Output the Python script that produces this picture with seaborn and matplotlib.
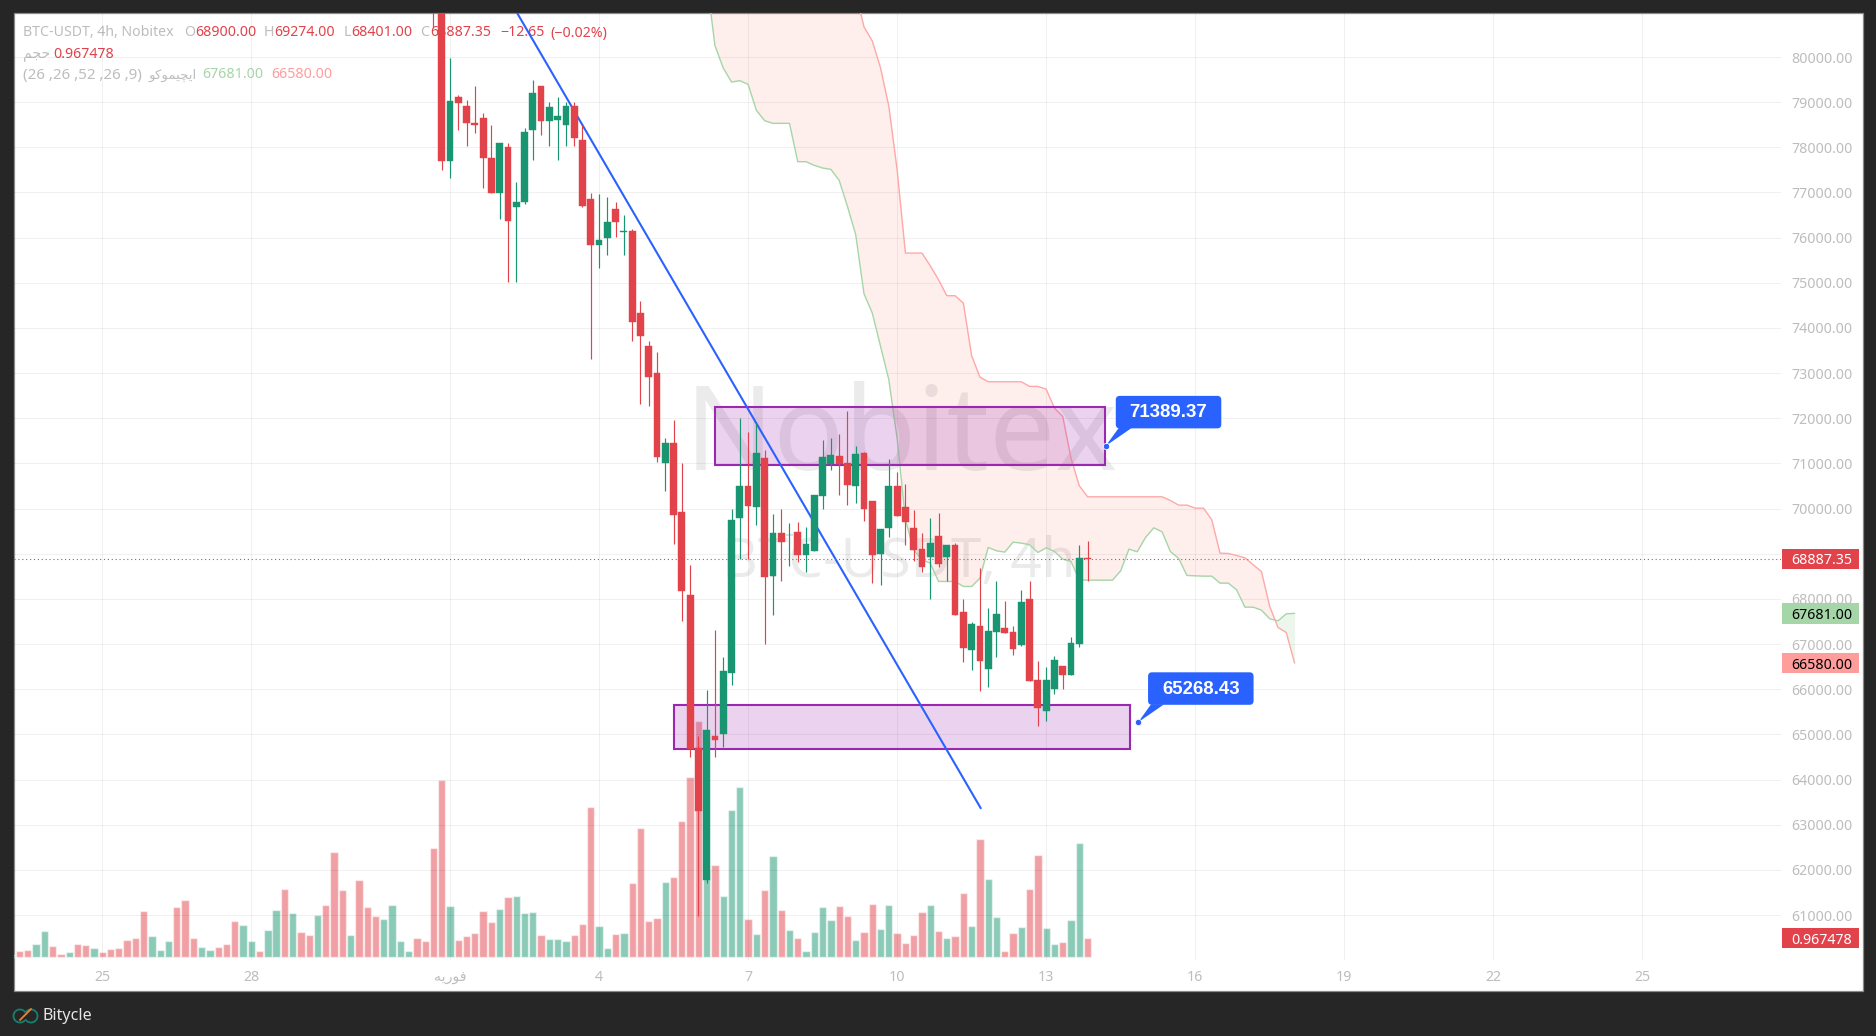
import matplotlib
matplotlib.use("Agg")
import matplotlib.pyplot as plt
import numpy as np
import pandas as pd
import seaborn as sns
from matplotlib.patches import Arc, FancyBboxPatch, Polygon, Rectangle

# candles, first one is bar 40 (bar 0 = 25 Jan 00:00, 6 bars a day)
first_candle = 40
opens = [82500, 81900, 77689, 79122, 78922, 78546, 78656, 77770, 76980, 78014,
         76670, 76781, 78376, 79365, 78575, 78612, 78501, 78922, 78169, 76862,
         75829, 75984, 76641, 76117, 76154, 74337, 73606, 73008, 71000, 71458,
         69930, 68091, 64695, 61779, 64968, 65020, 66371, 69782, 70506, 70026,
         71126, 68498, 69465, 69406, 69487, 68977, 69066, 70284, 70993, 71170,
         71015, 70506, 71236, 70173, 68999, 69575, 70506, 70041, 69575, 69110,
         68933, 69398, 68933, 69199, 67715, 66873, 67405, 66452, 67272, 67361,
         67272, 66984, 68003, 66209, 65522, 66009, 66519, 66319, 67006, 68900]
highs = [83000, 82500, 79985, 79166, 79055, 79365, 78767, 78501, 78103, 78103,
         77239, 78435, 79498, 79365, 79011, 79122, 79011, 79011, 78501, 76995,
         76973, 76907, 76796, 76508, 76198, 74603, 73717, 73474, 71569, 71967,
         71015, 68756, 64968, 65987, 67316, 66718, 69996, 72012, 71702, 71894,
         71303, 69885, 69996, 69686, 69708, 69598, 70306, 71524, 71569, 71657,
         72167, 71392, 71259, 70173, 69553, 71104, 70816, 70550, 69974, 69465,
         69797, 69908, 69199, 69243, 68003, 67493, 68690, 67803, 68401, 67958,
         67405, 68202, 68401, 66630, 66497, 66740, 66519, 67161, 69199, 69274]
lows = [80642, 77505, 77313, 78376, 78022, 78309, 77106, 76980, 76405, 75009,
        75009, 76737, 77711, 78265, 78022, 77711, 78022, 78022, 76670, 73304,
        75319, 75607, 76006, 75607, 73702, 72307, 72263, 71022, 70380, 69206,
        67501, 64511, 60974, 61705, 64511, 64732, 66098, 68889, 68889, 69642,
        67006, 67649, 68401, 68719, 68822, 68600, 69066, 69996, 70860, 70306,
        70085, 70129, 69730, 68357, 68313, 69376, 69841, 69199, 68845, 68600,
        68003, 68711, 68401, 67648, 66607, 66430, 65965, 66054, 66718, 67250,
        66762, 66962, 66187, 65190, 65300, 65899, 66009, 66319, 66939, 68401]
closes = [81300, 77689, 79033, 78974, 78531, 78487, 77756, 76980, 78103, 76360,
          76796, 78346, 79210, 78575, 78900, 78701, 78922, 78199, 76692, 75829,
          75954, 76353, 76338, 76154, 74123, 73813, 72905, 71148, 71458, 69848,
          68165, 64688, 63315, 65101, 64880, 66408, 69753, 70506, 70063, 71237,
          68475, 69465, 69265, 69420, 68977, 69221, 70306, 71148, 71192, 70993,
          70528, 71214, 69996, 68977, 69553, 70506, 69841, 69708, 69088, 68711,
          69243, 68778, 69199, 67648, 66917, 67449, 66630, 67294, 67670, 67250,
          66895, 67936, 66187, 65589, 66209, 66652, 66319, 67028, 68911, 68887.35]

# volume, first one is bar -11
first_volume = -11
volumes = [0.10, 0.31, 0.36, 0.66, 1.33, 0.56, 0.15, 0.26, 0.66, 0.61, 0.46,
           0.26, 0.41, 0.46, 0.87, 0.97, 2.35, 1.07, 0.36, 0.82, 2.55,
           2.91, 0.97, 0.51, 0.36, 0.51, 0.66, 1.84, 1.63, 0.82, 0.31,
           1.38, 2.40, 3.47, 2.24, 1.28, 1.12, 2.14, 2.65, 5.36, 3.42,
           1.12, 3.93, 2.55, 2.09, 1.94, 2.65, 0.82, 0.31, 0.97, 0.82,
           5.56, 9.03, 2.60, 0.87, 1.07, 1.22, 2.35, 1.79, 2.45, 3.06,
           3.11, 2.24, 2.30, 1.12, 0.92, 0.92, 0.82, 1.12, 1.68, 7.65,
           1.58, 0.46, 1.17, 1.22, 3.77, 6.58, 1.84, 1.99, 3.83, 4.08,
           6.94, 9.18, 12.04, 4.42, 4.69, 3.11, 7.50, 8.67, 1.94, 1.17,
           3.42, 5.15, 2.40, 1.38, 0.97, 0.31, 1.28, 2.55, 1.89, 2.60,
           2.09, 0.87, 1.28, 2.70, 1.43, 2.65, 1.22, 0.71, 1.12, 2.30,
           2.65, 1.33, 0.97, 1.07, 3.26, 1.58, 6.02, 3.98, 2.04, 0.31,
           1.22, 1.53, 3.47, 5.20, 1.48, 0.66, 0.77, 1.89, 5.81, 0.967478]
volume_dirs = ("grrggrrgrrg" "rrrrrrgggr" "rrggrrrggr" "ggrgrrgrrr" "grrrggggrr"
               "rrgrrrrrgr" "ggg" "r" "ggg" "rr" "r" "gg" "r" "g" "rrrr" "g" "r"
               "rrrgrggg" "rg" "rgrgrggg" "grr" "grr" "gg" "rrrr" "grgrrgrggrr" "grrggrggr")

# ichimoku spans, first one is bar 73
first_span = 73
span_a = [81713, 80251, 79756, 79446, 79476, 79395, 78819, 78590, 78531, 78531,
          78531, 77682, 77682, 77601, 77542, 77512, 77268, 76692, 76065, 74758,
          74330, 73592, 72853, 71554, 69753, 69088, 68867, 68793, 68387, 68387,
          68387, 68276, 68276, 68461, 69140, 69066, 69037, 69258, 69236, 69199,
          69029, 69132, 69051, 68881, 68830, 68424, 68416, 68416, 68416, 68416,
          68623, 69103, 69044, 69361, 69575, 69487, 69051, 68897, 68520, 68512,
          68505, 68505, 68350, 68350, 68202, 67818, 67818, 67752, 67560, 67516,
          67670, 67681]
span_b = [88000, 87500, 87000, 86500, 86000, 85500, 85000, 84600, 84200, 83800,
          83500, 83200, 83000, 82800, 82600, 82400, 82200, 82000, 81418, 80665,
          80355, 79756, 78907, 77505, 75659, 75659, 75659, 75378, 75068, 74714,
          74714, 74551, 73385, 72912, 72809, 72809, 72809, 72809, 72809, 72706,
          72706, 72647, 72226, 72041, 71118, 70506, 70262, 70262, 70262, 70262,
          70262, 70262, 70262, 70262, 70262, 70262, 70181, 70077, 70077, 70011,
          70011, 69753, 69014, 69007, 68962, 68911, 68756, 68608, 67833, 67368,
          67257, 66580]

# drawings on the chart
trend_x = [46, 106.1]
trend_y = [82266, 63366]
zones = [(74.0, 121.1, 70976, 72254), (69.0, 124.1, 64679, 65660)]
callouts = [(121.2, 71389.37, "71389.37"), (125.1, 65268.43, "65268.43")]

price_ticks = list(range(61000, 81000, 1000))
time_ticks = [0, 18, 42, 60, 78, 96, 114, 132, 150, 168, 186]
# visual order presentation forms, matplotlib does not shape arabic
feb = "\ufeea\ufbfe\ufead\ufeee\ufed3"
vol_word = "\ufee2\ufea0\ufea3"
ichi_word = "\ufeee\ufb90\ufeee\ufee4\ufbff\ufb7d\ufbfe\ufe8d"
time_labels = ["25", "28", feb, "4", "7", "10", "13", "16", "19", "22", "25"]
last_price = 68887.35
last_volume = 0.967478

red = "#E2424A"
green = "#199671"
blue = "#2962FF"
purple = "#9C27B0"
grey_text = "#BDBDBD"
span_green = "#A5D6A7"
span_red = "#FF9C9C"
dark = "#262626"
FONT = ["Noto Sans", "DejaVu Sans"]

sns.set_theme(style="white")
plt.rcParams["font.family"] = FONT

W, H = 1876, 1036
fig = plt.figure(figsize=(W / 100, H / 100), dpi=100, facecolor=dark)


def page_axes(z):
    a = fig.add_axes([0, 0, 1, 1], zorder=z)
    a.set_xlim(0, W)
    a.set_ylim(H, 0)
    a.set_axis_off()
    return a


def chart_rect(left, top, right, bottom):
    return [left / W, 1 - bottom / H, (right - left) / W, (bottom - top) / H]


ax_bg = page_axes(0)
ax_vol = fig.add_axes(chart_rect(14, 13.3, 1781, 960), zorder=1)
ax = fig.add_axes(chart_rect(14, 13.3, 1781, 960), zorder=2)
ax_top = page_axes(3)
ax.patch.set_visible(False)

# page
ax_bg.add_patch(Rectangle((14, 13.3), 1849, 977.7, fc="white", ec="#8a8a8a", lw=0.9))
ax_bg.text(901, 470, "Nobitex", fontsize=84.5, color="#000000", alpha=0.08, ha="center", va="baseline")
ax_bg.text(899, 577, "BTC-USDT, 4h", fontsize=39.5, color="#000000", alpha=0.08, ha="center", va="baseline")


def legend_text(x, y, s, color, size=10.2):
    ax_bg.text(x, y, s, fontsize=size, color=color, ha="left", va="center", family=FONT)


legend_text(23, 33, "BTC-USDT, 4h, Nobitex", grey_text)
for x, s, c in [(184, "O", grey_text), (195, "68900.00", red), (264, "H", grey_text), (274, "69274.00", red),
                (344, "L", grey_text), (351, "68401.00", red), (420, "C", grey_text), (430, "68887.35", red),
                (500, "\u221212.65", red), (550, "(\u22120.02%)", red)]:
    legend_text(x, 33, s, c)
legend_text(23, 54, vol_word, grey_text)
legend_text(53, 54, "0.967478", red)
legend_text(23, 75, "(26 ,26 ,52 ,26 ,9)", grey_text, size=10.9)
legend_text(149, 75, ichi_word, grey_text, size=9.6)
legend_text(202, 75, "67681.00", span_green)
legend_text(271, 75, "66580.00", span_red)

# bottom bar
ax_bg.add_patch(Arc((20, 1016), 13, 13, theta1=40, theta2=330, color="#17806F", lw=1.3))
ax_bg.add_patch(Arc((31, 1016), 13, 13, theta1=220, theta2=150, color="#17806F", lw=1.3))
ax_bg.plot([20, 31], [1020, 1009], color="#E8853A", lw=1.3)
ax_bg.text(42, 1016, "Bitycle", fontsize=11.6, color="#E6E6E6", ha="left", va="center")

# volume
vol_df = pd.DataFrame({
    "bar": np.arange(first_volume, first_volume + len(volumes)),
    "volume": volumes,
    "dir": list(volume_dirs)[:len(volumes)],
})
sns.barplot(data=vol_df, x="bar", y="volume", hue="dir", palette={"g": green, "r": red}, hue_order=["g", "r"],
            native_scale=True, dodge=False, width=0.88, saturation=1, alpha=0.5, legend=False, ax=ax_vol)
ax_vol.set_xlim(-10.66, 202.75)
ax_vol.set_ylim(-0.153, 48.15)
ax_vol.set_axis_off()

# cloud
span_x = np.arange(first_span, first_span + len(span_a))
a_vals = np.array(span_a, dtype=float)
b_vals = np.array(span_b, dtype=float)
ax.fill_between(span_x, a_vals, b_vals, where=b_vals >= a_vals, interpolate=True, color="#F44336", alpha=0.09, lw=0, zorder=1.5)
ax.fill_between(span_x, a_vals, b_vals, where=a_vals >= b_vals, interpolate=True, color="#4CAF50", alpha=0.1, lw=0, zorder=1.5)
sns.lineplot(x=span_x, y=a_vals, color=span_green, lw=1.0, errorbar=None, ax=ax, zorder=2)
sns.lineplot(x=span_x, y=b_vals, color="#FFA8A8", lw=1.0, errorbar=None, ax=ax, zorder=2)

# zones and trend line
for x0, x1, y0, y1 in zones:
    ax.add_patch(Rectangle((x0, y0), x1 - x0, y1 - y0, fc=(0.612, 0.153, 0.69, 0.2), ec=purple, lw=1.5, zorder=3))
ax.plot(trend_x, trend_y, color=blue, lw=1.5, zorder=4, solid_capstyle="round")

# candles
candle_x = np.arange(first_candle, first_candle + len(opens))
o = np.array(opens, dtype=float)
c = np.array(closes, dtype=float)
candle_colors = [green if up else red for up in c >= o]
ax.vlines(candle_x, lows, highs, colors=candle_colors, lw=0.85, zorder=5)
ax.bar(candle_x, np.abs(c - o), bottom=np.minimum(o, c), width=0.82, color=candle_colors,
       edgecolor=candle_colors, linewidth=0.3, zorder=6)
ax.axhline(last_price, color=red, lw=0.8, ls=(0, (1, 2.5)), zorder=4.5)

ax.set_xlim(-10.66, 202.75)
ax.set_ylim(60005, 80968)
ax.set_xticks(time_ticks)
ax.set_xticklabels(time_labels)
ax.set_yticks(price_ticks)
ax.set_yticklabels(["%.2f" % p for p in price_ticks])
ax.yaxis.tick_right()
ax.set_xlabel("")
ax.set_ylabel("")
ax.tick_params(axis="x", length=0, pad=7, labelsize=10.2, labelcolor=grey_text)
ax.tick_params(axis="y", length=0, pad=7.5, labelsize=10.2, labelcolor=grey_text)
for label in ax.get_xticklabels() + ax.get_yticklabels():
    label.set_family(FONT)
ax.grid(True, color="#000000", alpha=0.06, lw=0.75, zorder=0)
ax.set_axisbelow(True)
for s in ax.spines.values():
    s.set_visible(False)


def to_page(a, x, y):
    return ax_top.transData.inverted().transform(a.transData.transform((x, y)))


# last value tags on the price scale
tags = [(ax, last_price, "68887.35", red, "white"),
        (ax, span_a[-1], "67681.00", span_green, "black"),
        (ax, span_b[-1], "66580.00", span_red, "black"),
        (ax_vol, last_volume, "0.967478", red, "white")]
for a, v, s, bg, fg in tags:
    py = to_page(a, 0, v)[1]
    ax_top.add_patch(Rectangle((1782, py - 10.3), 77, 20.6, fc=bg, ec="none"))
    ax_top.text(1822, py, s, fontsize=10.2, color=fg, ha="center", va="center_baseline", family=FONT)

# blue price callouts
for cx, cy, s in callouts:
    px, py = to_page(ax, cx, cy)
    bx, by = px + 10, py - 50
    ax_top.add_patch(Polygon([(px, py), (bx + 3, by + 32), (bx + 16, by + 32)], fc=blue, ec="none"))
    ax_top.add_patch(FancyBboxPatch((bx + 3, by + 3), 99.5, 26.5, boxstyle="round,pad=3,rounding_size=4", fc=blue, ec="none"))
    ax_top.plot([px], [py], "o", ms=4.6, mfc=blue, mec="white", mew=0.6)
    ax_top.text(bx + 52.7, by + 15, s, fontsize=13.4, fontweight="bold", family="Liberation Sans",
                color="white", ha="center", va="center_baseline")

fig.savefig("out.png", dpi=100, facecolor=dark)
